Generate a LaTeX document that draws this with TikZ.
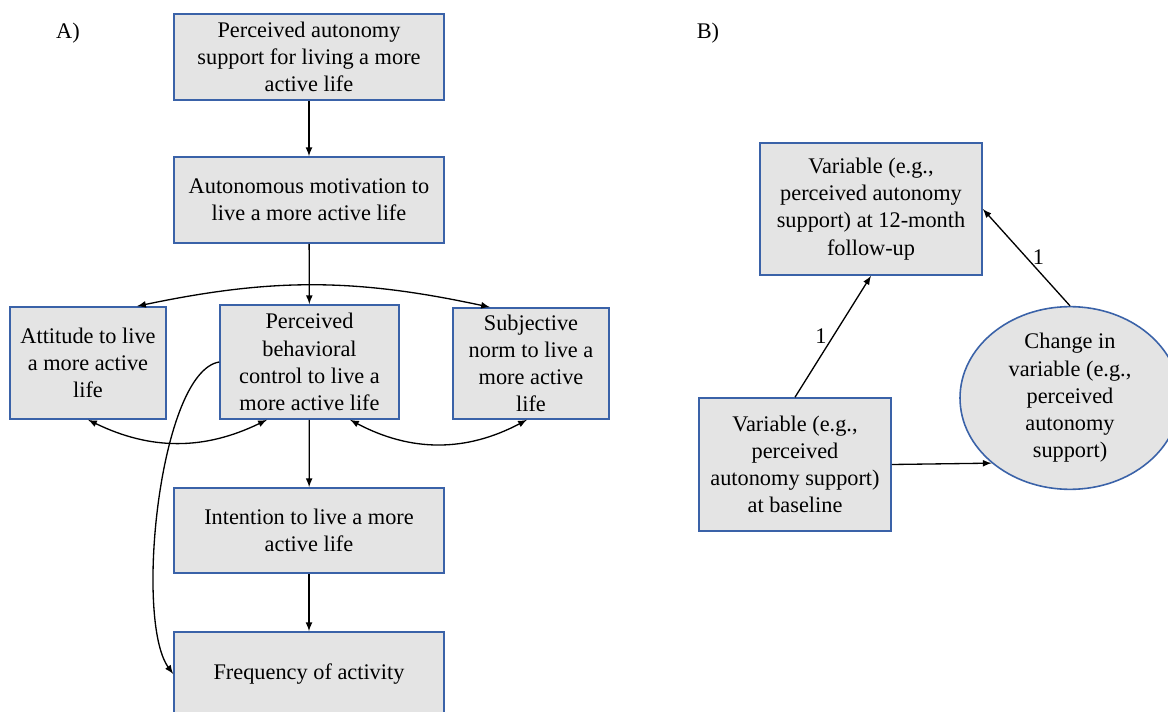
\documentclass[tikz,border=0pt]{standalone}
\usepackage{fontspec}
\setmainfont{Liberation Serif}
\usetikzlibrary{shapes.geometric}

\definecolor{BoxColor}{RGB}{228,228,228}
\definecolor{BorderColor}{RGB}{58,98,168}
\tikzstyle{ts-box-base}=[rectangle,
                         draw=BorderColor,
                         line width=0.9pt,
                         fill={BoxColor},
                         align=center,
                         inner sep=2pt,
                         font=\fontsize{12.7}{15.5}\selectfont
                        ]
\tikzstyle{construct}=[ts-box-base]
\tikzstyle{latent}=[ts-box-base, ellipse, inner sep=0pt]
\tikzstyle{panel-label}=[font=\fontsize{12.7}{15.5}\selectfont]

\begin{document}
\begin{tikzpicture}[line width=0.75pt]
\clip (0cm, 0cm) rectangle (23.36cm, -14.24cm);

\node at (1.36cm,  -0.66cm) (a_label)      [panel-label] {A)};
\node at (14.16cm, -0.66cm) (b_label)      [panel-label] {B)};

\node at (6.18cm,  -1.14cm) (a_support)    [construct, minimum width=5.4cm, minimum height=1.72cm]  {Perceived autonomy\\support for living a more\\active life};
\node at (6.18cm,  -4.00cm) (a_motivation) [construct, minimum width=5.4cm, minimum height=1.72cm]  {Autonomous motivation to\\live a more active life};
\node at (1.76cm,  -7.26cm) (a_attitude)   [construct, minimum width=3.12cm, minimum height=2.24cm] {Attitude to live\\a more active\\life};
\node at (6.19cm,  -7.24cm) (a_control)    [construct, minimum width=3.58cm, minimum height=2.28cm] {Perceived\\behavioral\\control to live a\\more active life};
\node at (10.62cm, -7.27cm) (a_norm)       [construct, minimum width=3.12cm, minimum height=2.22cm] {Subjective\\norm to live a\\more active\\life};
\node at (6.18cm, -10.61cm) (a_intention)  [construct, minimum width=5.4cm, minimum height=1.70cm]  {Intention to live a more\\active life};
\node at (6.18cm, -13.48cm) (a_frequency)  [construct, minimum width=5.4cm, minimum height=1.68cm]  {Frequency of activity};

\node at (17.42cm, -4.18cm) (b_followup)   [construct, minimum width=4.44cm, minimum height=2.64cm] {Variable (e.g.,\\perceived autonomy\\support) at 12-month\\follow-up};
\node at (15.90cm, -9.29cm) (b_baseline)   [construct, minimum width=3.84cm, minimum height=2.66cm] {Variable (e.g.,\\perceived\\autonomy support)\\at baseline};
\node at (21.40cm, -7.96cm) (b_change)     [latent, minimum width=4.4cm, minimum height=3.6cm]      {Change in\\variable (e.g.,\\perceived\\autonomy\\support)};

\draw[-latex] (a_support) -- (a_motivation);
\draw[-latex] (a_motivation) -- (a_control);
\draw[-latex] (a_control) -- (a_intention);
\draw[-latex] (a_intention) -- (a_frequency);
\draw[latex-latex] ([xshift=0.98cm]a_attitude.north) to[bend left=12] ([xshift=-0.82cm]a_norm.north);
\draw[latex-latex] (a_attitude.south) to[bend right=26] ([xshift=-0.85cm]a_control.south);
\draw[latex-latex] ([xshift=0.81cm]a_control.south) to[bend right=28] ([xshift=-0.08cm]a_norm.south);
\draw[-latex] (a_control.west) .. controls +(-1.2cm, -0.2cm) and +(-0.78cm, 1.06cm) .. (a_frequency.west);

\draw[-latex] (b_baseline.north) -- node[left] {\fontsize{12.7}{15.5}\selectfont 1} (b_followup.south);
\draw[-latex] (b_change.north) -- node[right] {\fontsize{12.7}{15.5}\selectfont 1} (b_followup.east);
\draw[-latex] (b_baseline.east) -- (b_change.south west);
\end{tikzpicture}
\end{document}
